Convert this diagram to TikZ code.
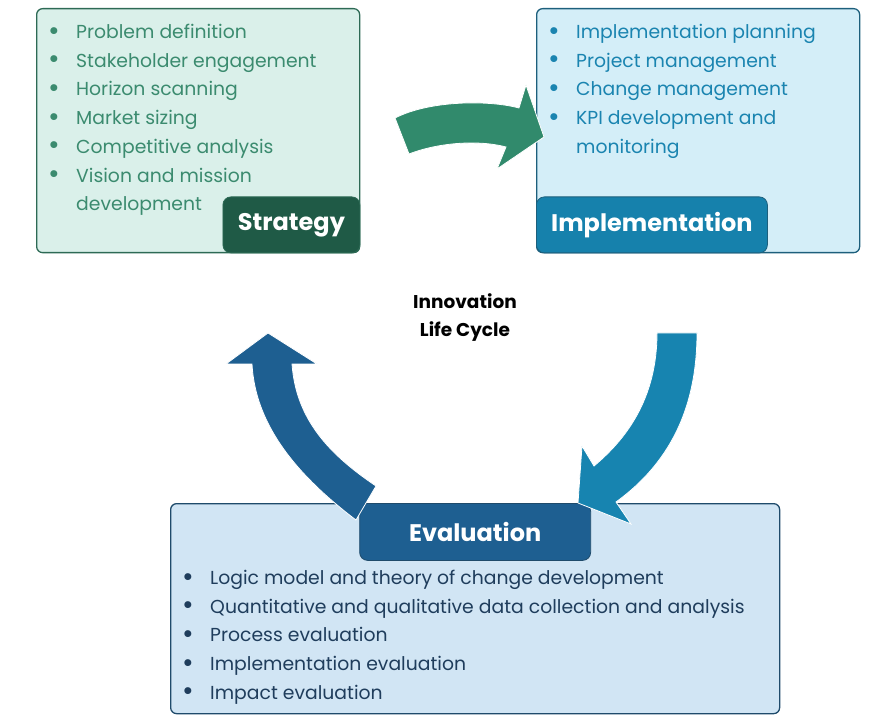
\documentclass[tikz,border=0pt]{standalone}
\usepackage{fontspec}
\setmainfont{Poppins}
\usepackage{xcolor}
\usepackage{graphicx}
\definecolor{stratfill}{HTML}{DAF0EA}
\definecolor{stratline}{HTML}{2D6A55}
\definecolor{strattext}{HTML}{3B8B6F}
\definecolor{stratdark}{HTML}{1F5A46}
\definecolor{implfill}{HTML}{D4EEF8}
\definecolor{implline}{HTML}{1D5F7C}
\definecolor{impltext}{HTML}{1A84B0}
\definecolor{impldark}{HTML}{1681AC}
\definecolor{evalfill}{HTML}{D1E5F4}
\definecolor{evalline}{HTML}{1F4B6B}
\definecolor{evaltext}{HTML}{1F3D5C}
\definecolor{evaldark}{HTML}{1E5F91}
\definecolor{arrgreen}{HTML}{318A6C}
\definecolor{arrteal}{HTML}{1784B0}
\usetikzlibrary{positioning}
\newcommand{\bul}{\makebox[27pt][l]{\hspace*{-1pt}\raisebox{-1.5pt}{\scalebox{1.5}{\textbullet}}}}
\newcommand{\cont}{\hspace*{27pt}}

\begin{document}
\begin{tikzpicture}[x=1pt,y=-1pt,
  phase/.style={draw,rounded corners=6pt,line width=1.3pt,anchor=north west,inner sep=0pt},
  tag/.style={draw,rounded corners=8pt,line width=0.8pt,text=white,inner sep=0pt,
    minimum height=56pt,font=\fontsize{24}{24}\selectfont\bfseries},
  items/.style={align=left,anchor=north west,inner sep=0pt,font=\fontsize{18.8}{28.7}\selectfont},
  bigarrow/.style={draw=white,line width=0.8pt}]
  \useasboundingbox (0,0) rectangle (895,719);
  % Phase boxes
  \node[phase,fill=stratfill,draw=stratline,minimum width=323pt,minimum height=244pt] (strategy) at (36,8) {};
  \node[phase,fill=implfill,draw=implline,minimum width=323pt,minimum height=244pt] (implement) at (536,8) {};
  \node[phase,fill=evalfill,draw=evalline,minimum width=609pt,minimum height=210pt] (evaluate) at (170,503) {};
  % Tags
  \node[tag,fill=stratdark,draw=stratline,minimum width=137pt,anchor=south east] (stratTag) at (strategy.south east) {Strategy};
  \node[tag,fill=impldark,draw=implline,minimum width=231pt,anchor=south west] (implTag) at (implement.south west) {Implementation};
  \node[tag,fill=evaldark,draw=evalline,minimum width=231pt,minimum height=57pt,anchor=north] (evalTag) at (evaluate.north) {Evaluation};
  % Item lists
  \node[items,text=strattext] (stratItems) at (49,24) {\bul Problem definition\\ \bul Stakeholder engagement\\ \bul Horizon scanning\\ \bul Market sizing\\ \bul Competitive analysis\\ \bul Vision and mission\\ \cont development};
  \node[items,text=impltext] (implItems) at (549,24) {\bul Implementation planning\\ \bul Project management\\ \bul Change management\\ \bul KPI development and\\ \cont monitoring};
  \node[items,text=evaltext] (evalItems) at (183,570) {\bul Logic model and theory of change development\\ \bul Quantitative and qualitative data collection and analysis\\ \bul Process evaluation\\ \bul Implementation evaluation\\ \bul Impact evaluation};
  % Centre title
  \node[align=center,font=\fontsize{18.5}{28}\selectfont\bfseries] (title) at (465,318) {Innovation\\ Life Cycle};
  % Cycle arrows
  \fill[arrgreen,bigarrow] (395,118) .. controls (430,100) and (490,100) .. (519,108) -- (526,85) -- (544,137)
    -- (497,169) -- (506,147) .. controls (480,140) and (440,142) .. (409,154) -- cycle;
  \fill[arrteal,bigarrow] (657,333) -- (697,333) .. controls (697,420) and (660,470) .. (616,502) -- (631,524)
    -- (578,503) -- (582,446) -- (594,466) .. controls (625,440) and (657,400) .. (657,333) -- cycle;
  \fill[evaldark,bigarrow] (356,520) .. controls (290,470) and (255,420) .. (252,364) -- (226,364) -- (268,333)
    -- (317,364) -- (292,364) .. controls (296,420) and (330,455) .. (376,486) -- cycle;
\end{tikzpicture}
\end{document}
